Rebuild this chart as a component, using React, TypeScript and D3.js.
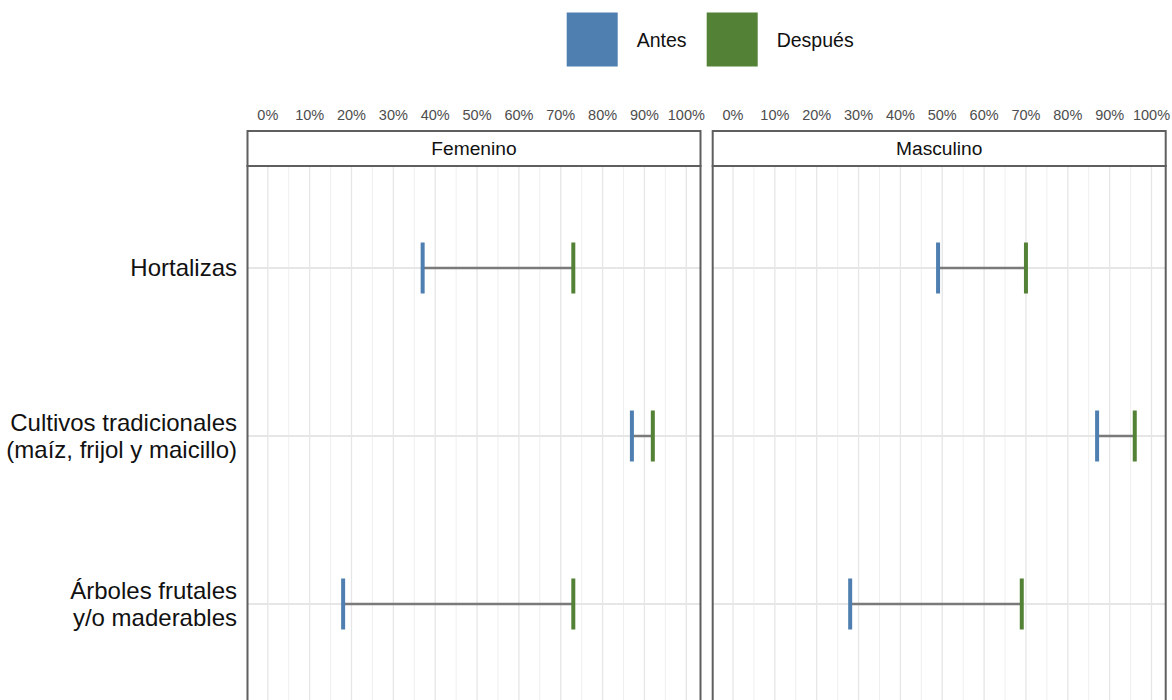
import React from 'react';
import * as d3 from 'd3';

const categories = ['Hortalizas', 'Cultivos tradicionales\n(maíz, frijol y maicillo)', 'Árboles frutales\ny/o maderables'];
const panels = ['Femenino', 'Masculino'];
const antesFemenino = [37, 87, 18];
const despuesFemenino = [73, 92, 73];
const antesMasculino = [49, 87, 28];
const despuesMasculino = [70, 96, 69];
const xTicks = [0, 10, 20, 30, 40, 50, 60, 70, 80, 90, 100];
const minorTicks = [5, 15, 25, 35, 45, 55, 65, 75, 85, 95];
const legendLabels = ['Antes', 'Después'];

const BLUE = '#4e7fb0';
const GREEN = '#538135';
const FONT = '"Liberation Sans", Arial, Helvetica, sans-serif';

export default function App() {
  const W = 1172, H = 700;
  const panelLefts = [247.5, 712.7];
  const panelW = 453;
  const stripTop = 131, stripBottom = 166;
  const panelBottom = 706;
  const y = d3.scalePoint<string>().domain(categories).range([268, 604]);
  const antes = [antesFemenino, antesMasculino];
  const despues = [despuesFemenino, despuesMasculino];
  const tickH = 51;

  return (
    <svg width={W} height={H} style={{ position: 'absolute', left: 0, top: 0, background: '#fff' }} fontFamily={FONT}>
      {/* legend */}
      <g>
        <rect x={566.7} y={12.5} width={51} height={54} fill={BLUE} />
        <text x={636.7} y={47} fontSize={19.5} fill="#111">{legendLabels[0]}</text>
        <rect x={706.7} y={12.5} width={51} height={54} fill={GREEN} />
        <text x={776.7} y={47} fontSize={19.5} fill="#111">{legendLabels[1]}</text>
      </g>
      {/* category labels */}
      {categories.map((c) => {
        const lines = c.split('\n');
        const cy = y(c)!;
        const lh = 27;
        const start = cy - ((lines.length - 1) * lh) / 2;
        return (
          <text key={c} textAnchor="end" fontSize={24} fill="#111">
            {lines.map((l, i) => (
              <tspan key={i} x={237} y={start + i * lh} dy="0.35em">{l}</tspan>
            ))}
          </text>
        );
      })}
      {panels.map((p, pi) => {
        const left = panelLefts[pi];
        const x = d3.scaleLinear().domain([0, 100]).range([left + 20.3, left + 438.8]);
        return (
          <g key={p}>
            {/* tick labels */}
            {xTicks.map((t) => (
              <text key={t} x={x(t)} y={115} dy="0.35em" textAnchor="middle" fontSize={14.5} fill="#4d4d4d">
                {d3.format('.0%')(t / 100)}
              </text>
            ))}
            {/* strip */}
            <rect x={left} y={stripTop} width={panelW} height={stripBottom - stripTop} fill="#fff" stroke="#5f5f5f" strokeWidth={2} />
            <text x={left + panelW / 2} y={(stripTop + stripBottom) / 2} dy="0.35em" textAnchor="middle" fontSize={19.2} fill="#111">{p}</text>
            {/* grid */}
            {minorTicks.map((t) => (
              <line key={'m' + t} x1={x(t)} x2={x(t)} y1={stripBottom} y2={panelBottom} stroke="#efefef" strokeWidth={1} />
            ))}
            {xTicks.map((t) => (
              <line key={'M' + t} x1={x(t)} x2={x(t)} y1={stripBottom} y2={panelBottom} stroke="#e6e6e6" strokeWidth={1.3} />
            ))}
            {categories.map((c) => (
              <line key={'h' + c} x1={left} x2={left + panelW} y1={y(c)} y2={y(c)} stroke="#e6e6e6" strokeWidth={2} />
            ))}
            {/* marks */}
            {categories.map((c, ci) => {
              const cy = y(c)!;
              const a = antes[pi][ci], d = despues[pi][ci];
              return (
                <g key={'k' + c}>
                  <line x1={x(a)} x2={x(d)} y1={cy} y2={cy} stroke="#7a7a7a" strokeWidth={2.5} />
                  <line x1={x(a)} x2={x(a)} y1={cy - tickH / 2} y2={cy + tickH / 2} stroke={BLUE} strokeWidth={4} />
                  <line x1={x(d)} x2={x(d)} y1={cy - tickH / 2} y2={cy + tickH / 2} stroke={GREEN} strokeWidth={4} />
                </g>
              );
            })}
            {/* border */}
            <rect x={left} y={stripBottom} width={panelW} height={panelBottom - stripBottom} fill="none" stroke="#5f5f5f" strokeWidth={2} />
          </g>
        );
      })}
    </svg>
  );
}
